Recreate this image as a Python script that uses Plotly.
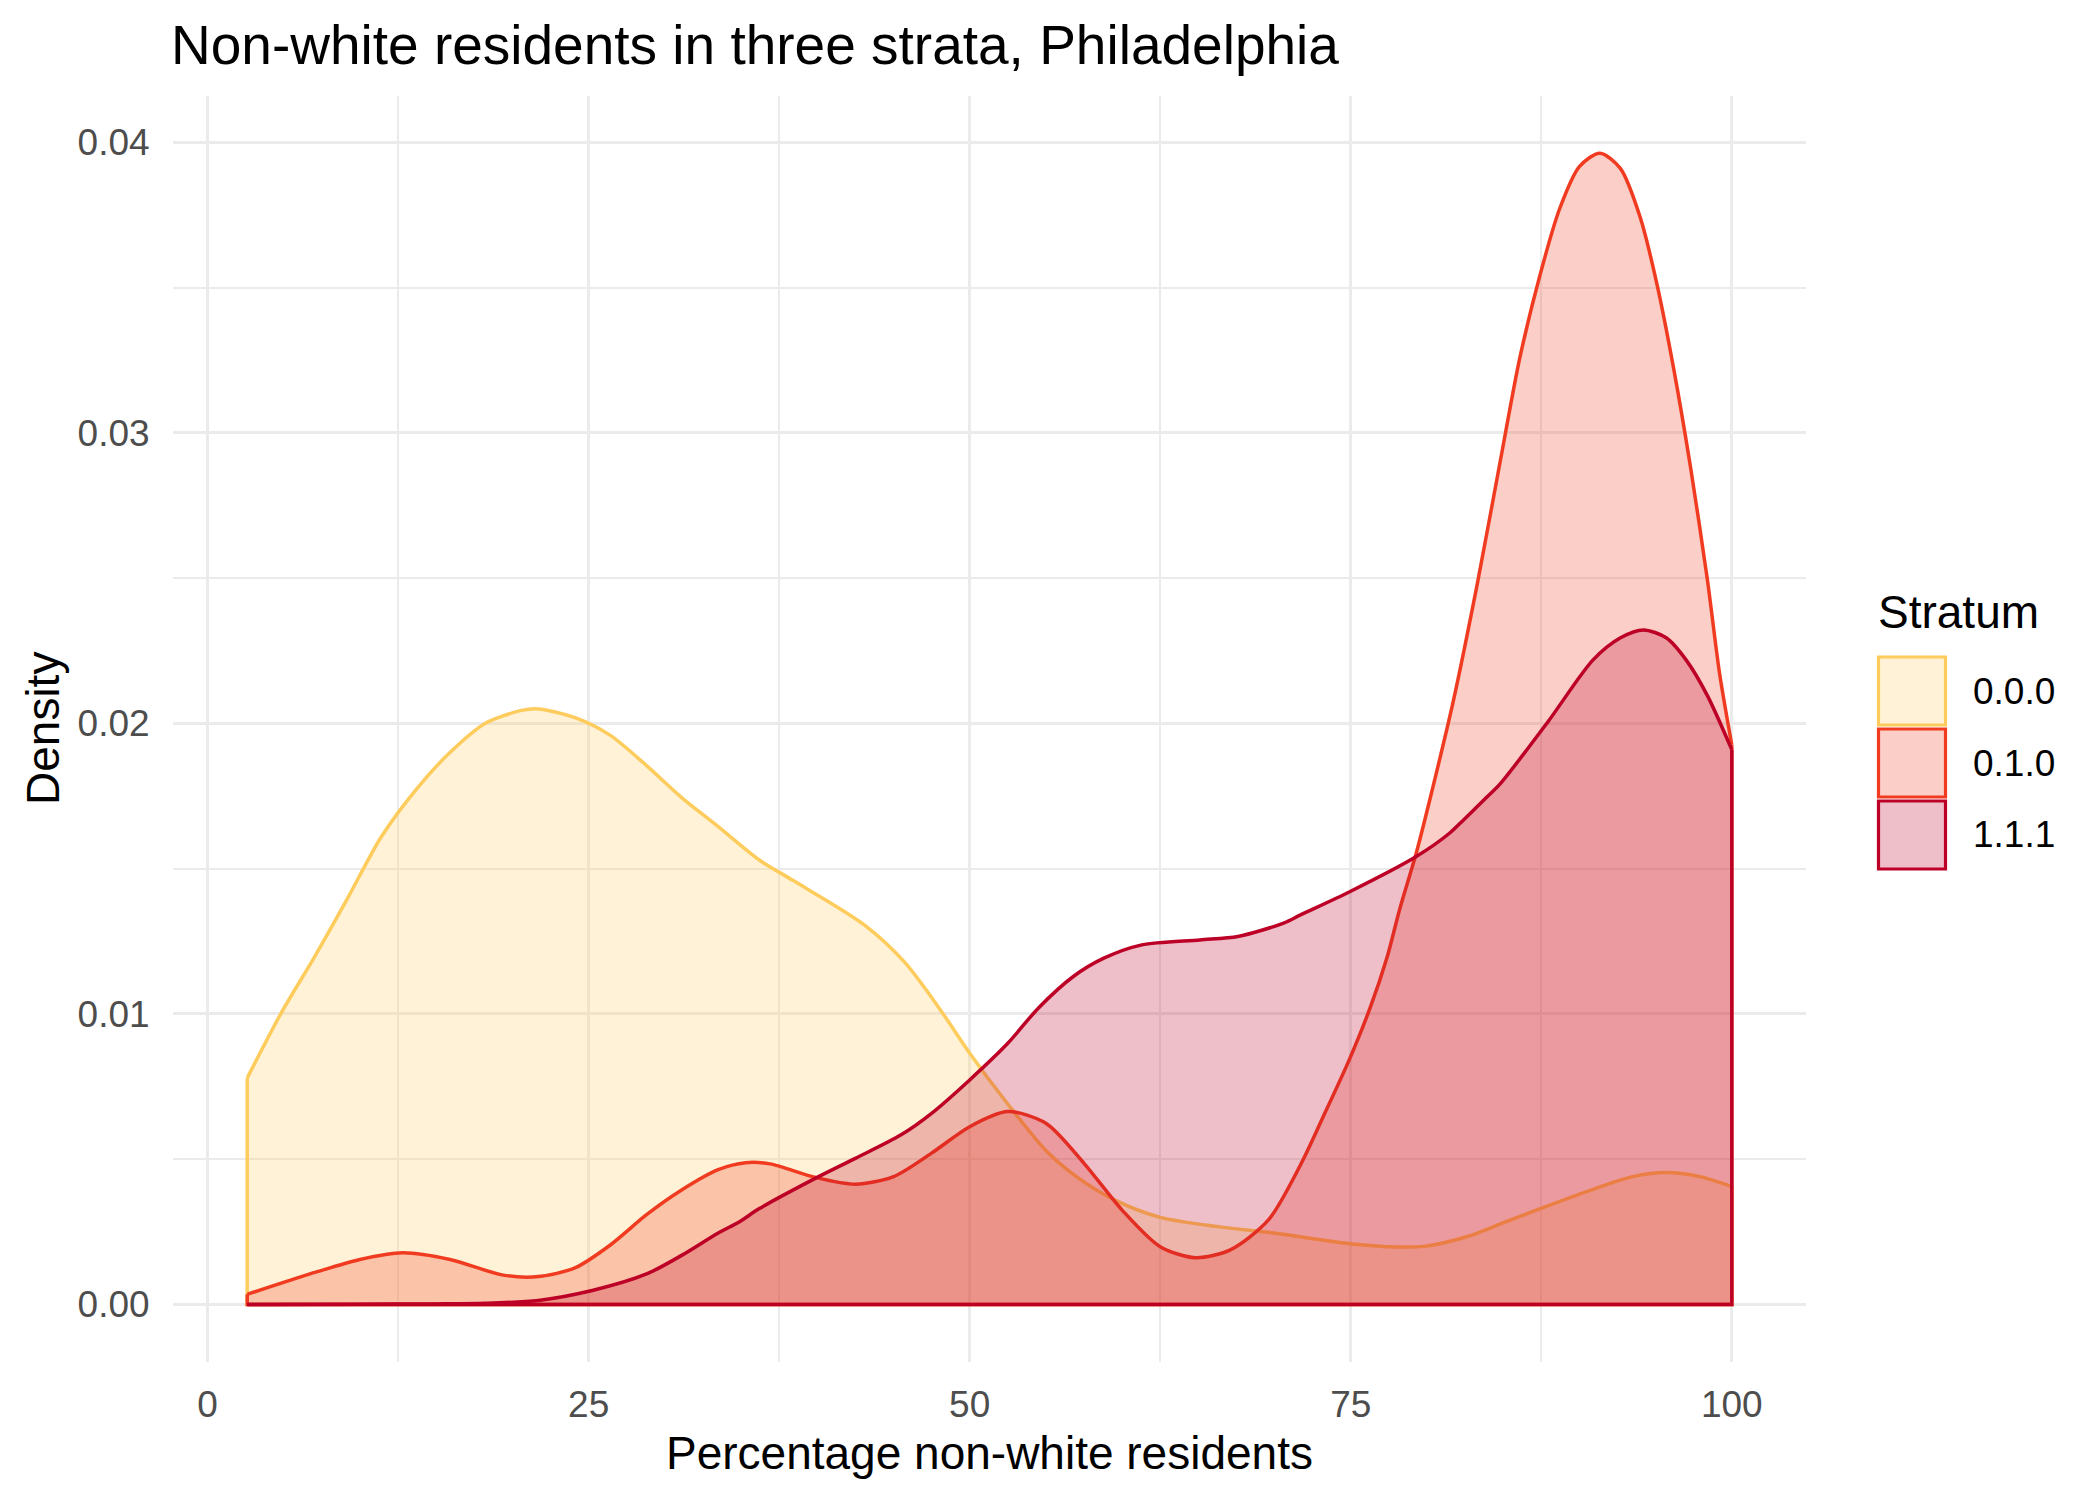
import plotly.graph_objects as go

# ---------------- data ----------------
strata = ["0.0.0", "0.1.0", "1.1.1"]
line_colors = ["#FECC5C", "#F03B20", "#BD0026"]
fill_colors = ["rgba(254,204,92,0.25)", "rgba(240,59,32,0.25)", "rgba(189,0,38,0.25)"]

x_000 = [2.6, 4.9, 7.0, 9.1, 11.4, 13.8, 15.9, 18.2, 20.6, 21.7, 24.1, 26.4, 28.8, 31.1,
         33.5, 36.2, 38.4, 43.0, 45.7, 48.0, 50.0, 52.5, 55.0, 57.0, 59.5, 62.5, 66.3,
         70.1, 74.3, 77.1, 79.8, 82.6, 85.2, 88.1, 91.4, 93.5, 95.7, 97.9, 100.0]
y_000 = [0.0078, 0.0101, 0.01195, 0.0139, 0.0161, 0.0178, 0.0190, 0.0200, 0.02045, 0.0205,
         0.0202, 0.0196, 0.01855, 0.01745, 0.01645, 0.0153, 0.0146, 0.0131, 0.0118, 0.0102,
         0.00865, 0.0069, 0.0053, 0.0044, 0.0036, 0.0030, 0.00268, 0.00245, 0.00213, 0.0020,
         0.0020, 0.00233, 0.00285, 0.00343, 0.00406, 0.0044, 0.00454, 0.0044, 0.00406]

x_010 = [2.6, 7.2, 10.0, 12.8, 15.9, 19.4, 21.7, 24.1, 26.4, 28.8, 31.1, 33.5, 35.3, 36.9,
         39.9, 42.5, 45.0, 47.5, 50.0, 52.5, 55.0, 57.5, 60.0, 62.5, 64.8, 67.1, 69.6, 71.7,
         73.2, 74.9, 76.3, 77.4, 78.2, 79.3, 80.2, 81.7, 83.3, 84.8, 86.1, 87.4, 88.7, 90.0,
         91.35, 92.7, 94.0, 95.1, 96.2, 97.3, 98.4, 99.2, 100.0]
y_010 = [0.00035, 0.00113, 0.00155, 0.00178, 0.00155, 0.00101, 0.00096, 0.00126, 0.00204,
         0.00309, 0.00394, 0.00464, 0.00488, 0.00484, 0.00437, 0.00414, 0.0044, 0.00521,
         0.00612, 0.00664, 0.00624, 0.00486, 0.00325, 0.00199, 0.00161, 0.00188, 0.00291,
         0.0048, 0.00647, 0.00842, 0.01025, 0.01198, 0.01358, 0.01554, 0.0174, 0.0207,
         0.0248, 0.0290, 0.0326, 0.0354, 0.03771, 0.03917, 0.03963, 0.0391, 0.03741,
         0.0351, 0.03218, 0.0288, 0.02495, 0.02172, 0.01927]

x_111 = [2.6, 10.0, 15.0, 18.2, 21.7, 25.3, 28.8, 31.1, 33.5, 34.9, 36.2, 39.9, 42.5, 45.5,
         47.5, 50.0, 52.5, 54.5, 56.8, 58.8, 61.3, 65.1, 67.6, 70.6, 71.7, 74.9, 79.3,
         81.5, 82.4, 83.9, 84.8, 87.9, 90.9, 92.7, 94.2, 95.7, 97.0, 98.4, 100.0]
y_111 = [0.0, 0.00001, 0.00002, 0.00004, 0.00014, 0.00049, 0.00105, 0.00169, 0.00246,
         0.00285, 0.0033, 0.00435, 0.00503, 0.00584, 0.00658, 0.00773, 0.00899, 0.0102,
         0.01129, 0.01192, 0.01238, 0.01255, 0.01267, 0.01313, 0.01341, 0.0142,
         0.01542, 0.01623, 0.01668, 0.01745, 0.01792, 0.02003, 0.02219, 0.02295, 0.02322,
         0.02295, 0.02219, 0.02096, 0.0191]

series_x = [x_000, x_010, x_111]
series_y = [y_000, y_010, y_111]

x_ticks = [0, 25, 50, 75, 100]
y_ticks = [0.0, 0.01, 0.02, 0.03, 0.04]

title_text = "Non-white residents in three strata, Philadelphia"
x_title = "Percentage non-white residents"
y_title = "Density"
legend_title = "Stratum"

FONT = "Liberation Sans, Arial, sans-serif"
LW = 3.5

# ---------------- figure ----------------
fig = go.Figure()
for name, xs, ys, lc, fc in zip(strata, series_x, series_y, line_colors, fill_colors):
    # smooth density curve with its area filled down to zero
    fig.add_trace(go.Scatter(
        x=xs, y=ys, mode="lines", fill="tozeroy", fillcolor=fc,
        line=dict(color=lc, width=LW, shape="spline", smoothing=0.8),
        name=name, showlegend=False, hoverinfo="skip"))
    # outline of the area's sides and base, as geom_density draws it
    fig.add_trace(go.Scatter(
        x=[xs[-1], xs[-1], xs[0], xs[0]], y=[ys[-1], 0, 0, ys[0]], mode="lines",
        line=dict(color=lc, width=LW), showlegend=False, hoverinfo="skip"))

W, H = 2100, 1500
L, R, T, B = 173, 294, 96, 138
pw, ph = W - L - R, H - T - B


def px2paper(xp, yp):
    return (xp - L) / pw, (H - B - yp) / ph


grid = "#EBEBEB"
fig.update_layout(
    width=W, height=H,
    margin=dict(l=L, r=R, t=T, b=B, pad=0),
    paper_bgcolor="white", plot_bgcolor="white",
    font=dict(family=FONT, color="black"),
    title=dict(text=title_text, font=dict(size=55, family=FONT, color="black"),
               x=171 / W, xanchor="left", xref="container",
               y=1 - 45 / H, yanchor="middle", yref="container"),
    xaxis=dict(range=[-2.27, 104.87], tickvals=x_ticks, ticktext=[str(v) for v in x_ticks],
               showgrid=True, gridcolor=grid, gridwidth=3, zeroline=False, showline=False,
               ticks="outside", ticklen=10, tickcolor="rgba(0,0,0,0)",
               tickfont=dict(size=37, color="#4D4D4D", family=FONT),
               minor=dict(tickvals=[12.5, 37.5, 62.5, 87.5], showgrid=True,
                          gridcolor=grid, gridwidth=1.6, ticks="")),
    yaxis=dict(range=[-0.00198, 0.0416], tickvals=y_ticks,
               ticktext=["%.2f" % v for v in y_ticks],
               showgrid=True, gridcolor=grid, gridwidth=3, zeroline=False, showline=False,
               ticks="outside", ticklen=15, tickcolor="rgba(0,0,0,0)",
               tickfont=dict(size=37, color="#4D4D4D", family=FONT),
               minor=dict(tickvals=[0.005, 0.015, 0.025, 0.035], showgrid=True,
                          gridcolor=grid, gridwidth=1.6, ticks="")),
    showlegend=False,
)

annotations = []
# axis titles
ax, ay = px2paper(989, 1453)
annotations.append(dict(text=x_title, x=ax, y=ay, xref="paper", yref="paper",
                        xanchor="center", yanchor="middle", showarrow=False,
                        font=dict(size=46, family=FONT, color="black")))
ax, ay = px2paper(43, 729)
annotations.append(dict(text=y_title, x=ax, y=ay, xref="paper", yref="paper",
                        xanchor="center", yanchor="middle", showarrow=False, textangle=-90,
                        font=dict(size=46, family=FONT, color="black")))
# legend title
ax, ay = px2paper(1876, 612)
annotations.append(dict(text=legend_title, x=ax, y=ay, xref="paper", yref="paper",
                        xanchor="left", yanchor="middle", showarrow=False,
                        font=dict(size=46, family=FONT, color="black")))

shapes = []
key_tops = [657, 729, 801]
key_h = 68
for name, lc, fc, top in zip(strata, line_colors, fill_colors, key_tops):
    x0, y0 = px2paper(1878.5, top + key_h)
    x1, y1 = px2paper(1945.5, top)
    shapes.append(dict(type="rect", xref="paper", yref="paper", x0=x0, x1=x1, y0=y0, y1=y1,
                       fillcolor=fc, line=dict(color=lc, width=3.2), layer="above"))
    lx, ly = px2paper(1971, top + key_h / 2)
    annotations.append(dict(text=name, x=lx, y=ly, xref="paper", yref="paper",
                            xanchor="left", yanchor="middle", showarrow=False,
                            font=dict(size=37, family=FONT, color="black")))

fig.update_layout(annotations=annotations, shapes=shapes)
fig.write_html("out.html")
